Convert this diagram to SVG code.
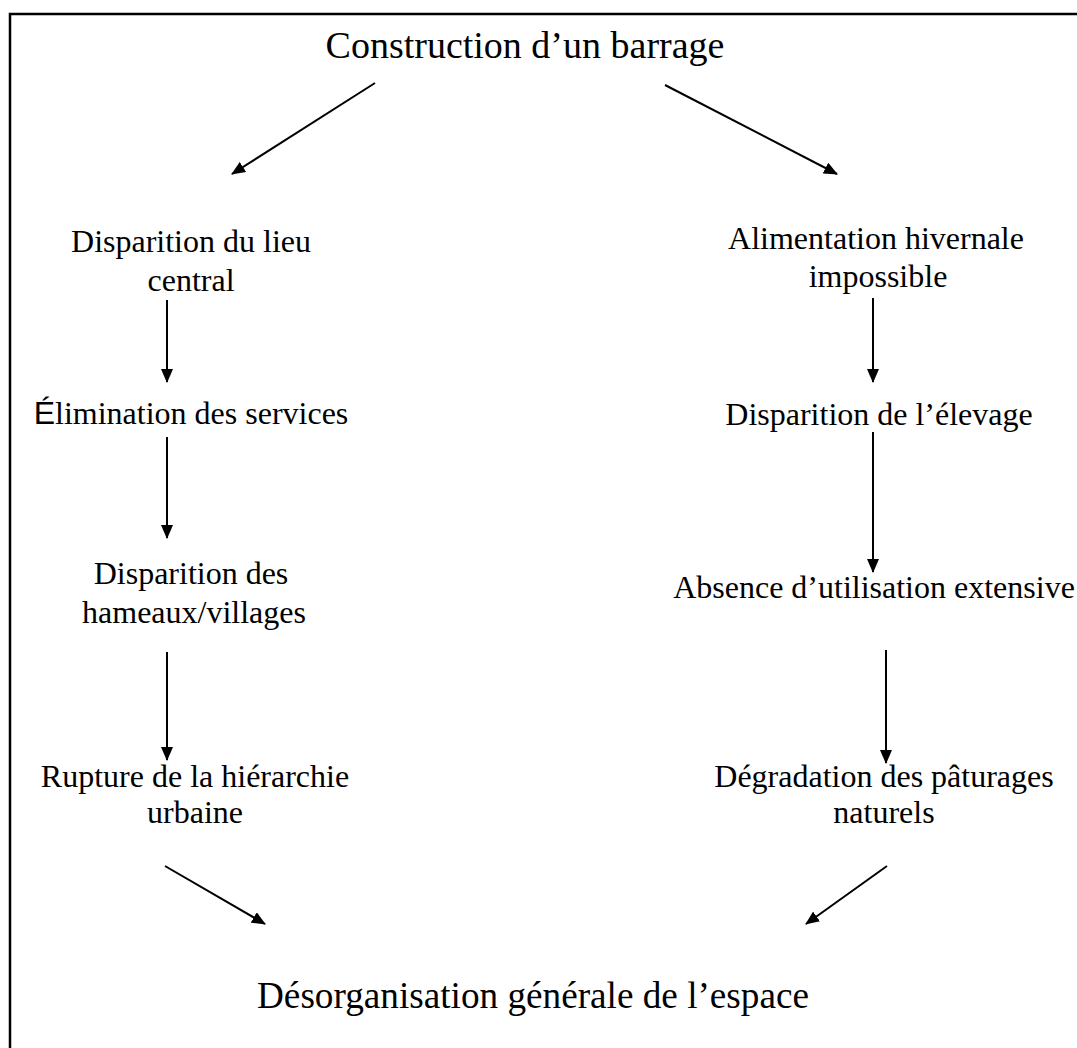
<svg xmlns="http://www.w3.org/2000/svg" width="1077" height="1048" viewBox="0 0 1077 1048">
<style>
text{font-family:"Liberation Serif","Times New Roman",serif;fill:#000;text-anchor:middle}
.big{font-size:38px}
.lbl{font-size:32px}
.sans{font-family:"Liberation Sans",Arial,sans-serif}
.conn line{stroke:#000;stroke-width:2;marker-end:url(#ah)}
</style>
<defs>
<marker id="ah" markerUnits="userSpaceOnUse" markerWidth="14" markerHeight="12" refX="13" refY="6" orient="auto">
<path d="M0,0 L14,6 L0,12 z" fill="#000"/>
</marker>
</defs>
<rect x="10" y="14" width="1100" height="1100" fill="#fff" stroke="#000" stroke-width="2.5"/>
<g id="n-construction"><text class="big" x="525" y="58">Construction d’un barrage</text></g>
<g id="n-lieu"><text class="lbl" x="191" y="252">Disparition du lieu</text><text class="lbl" x="191" y="291">central</text></g>
<g id="n-services"><text class="lbl" x="191" y="424"><tspan class="sans">É</tspan>limination des services</text></g>
<g id="n-hameaux"><text class="lbl" x="191" y="584">Disparition des</text><text class="lbl" x="194" y="623">hameaux/villages</text></g>
<g id="n-rupture"><text class="lbl" x="195" y="787">Rupture de la hiérarchie</text><text class="lbl" x="195" y="823">urbaine</text></g>
<g id="n-alimentation"><text class="lbl" x="876" y="249">Alimentation hivernale</text><text class="lbl" x="878" y="287">impossible</text></g>
<g id="n-elevage"><text class="lbl" x="879" y="425">Disparition de l’élevage</text></g>
<g id="n-absence"><text class="lbl" x="874" y="598">Absence d’utilisation extensive</text></g>
<g id="n-degradation"><text class="lbl" x="884" y="787">Dégradation des pâturages</text><text class="lbl" x="884" y="823">naturels</text></g>
<g id="n-desorganisation"><text class="big" x="533" y="1008" textLength="552" lengthAdjust="spacingAndGlyphs">Désorganisation générale de l’espace</text></g>
<g id="connectors" class="conn">
<line x1="375" y1="83" x2="232" y2="174"/>
<line x1="665" y1="85" x2="837" y2="174"/>
<line x1="167" y1="300" x2="167" y2="382"/>
<line x1="167" y1="437" x2="167" y2="538"/>
<line x1="167" y1="652" x2="167" y2="760"/>
<line x1="165" y1="866" x2="265" y2="924"/>
<line x1="873" y1="298" x2="873" y2="382"/>
<line x1="873" y1="432" x2="873" y2="572"/>
<line x1="886" y1="650" x2="886" y2="763"/>
<line x1="887" y1="866" x2="806" y2="924"/>
</g>
</svg>
